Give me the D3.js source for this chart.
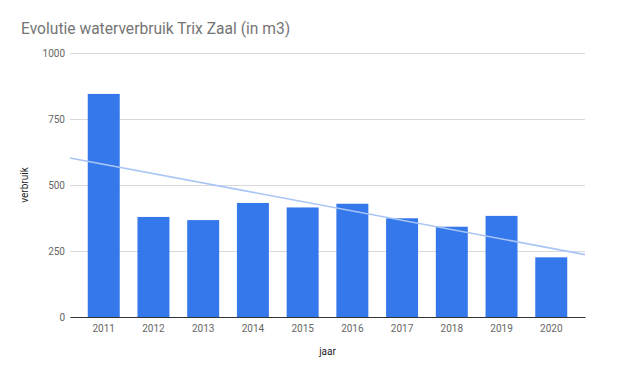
<!DOCTYPE html>
<html>
<head>
<meta charset="utf-8">
<script src="https://cdn.jsdelivr.net/npm/d3@7"></script>
<style>
  body { margin: 0; background: #fff; }
  text { font-family: Roboto, Arial, sans-serif; }
</style>
</head>
<body>
<script>
var width = 640;
var height = 380;
var margin = {top: 53, right: 55, bottom: 63, left: 70};
var w = width - margin.left - margin.right;
var h = height - margin.top - margin.bottom;

// data
var years = ['2011','2012','2013','2014','2015','2016','2017','2018','2019','2020'];
var usage = [845, 379, 367, 432, 415, 429, 374, 342, 383, 226];
var yTicks = [0, 250, 500, 750, 1000];

var svg = d3.select("body").append("svg")
  .attr("width", width)
  .attr("height", height);

svg.append("text")
  .attr("x", 21)
  .attr("y", 34)
  .attr("font-size", 15.6)
  .attr("fill", "#757575")
  .text("Evolutie waterverbruik Trix Zaal (in m3)");

var g = svg.append("g")
  .attr("transform", "translate(" + margin.left + "," + margin.top + ")");

var x = d3.scaleBand()
  .domain(years)
  .range([0, w])
  .padding(0.357);

var y = d3.scaleLinear()
  .domain([0, 1000])
  .range([h, 0]);

// gridlines + y labels
g.append("g")
  .attr("class", "y axis")
  .call(d3.axisLeft(y).tickValues(yTicks).tickFormat(d3.format("d")).tickSize(-w).tickPadding(5))
  .call(function(a) {
    a.select(".domain").remove();
    a.selectAll("line").attr("stroke", "#d9d9d9");
    a.selectAll("text").attr("fill", "#666").attr("font-size", 10);
  });

// bars
g.selectAll(".bar")
  .data(usage)
  .enter()
  .append("rect")
  .attr("class", "bar")
  .attr("x", function(d, i) { return x(years[i]); })
  .attr("width", x.bandwidth())
  .attr("y", function(d) { return y(d); })
  .attr("height", function(d) { return h - y(d); })
  .attr("fill", "#3478eb");

// linear trendline (least squares over the bars), across the full plot width
var mx = d3.mean(usage, function(d, i) { return i; });
var my = d3.mean(usage);
var sxy = 0, sxx = 0;
usage.forEach(function(d, i) {
  sxy += (i - mx) * (d - my);
  sxx += (i - mx) * (i - mx);
});
var slope = sxy / sxx;
var step = x.step();
var c0 = x(years[0]) + x.bandwidth() / 2;
function trendAt(px) {
  var idx = (px - c0) / step;
  return my + slope * (idx - mx);
}
g.append("line")
  .attr("x1", 0)
  .attr("y1", y(trendAt(0)))
  .attr("x2", w)
  .attr("y2", y(trendAt(w)))
  .attr("stroke", "#a9c5f5")
  .attr("stroke-width", 1.6);

// x axis
g.append("g")
  .attr("class", "x axis")
  .attr("transform", "translate(0," + h + ")")
  .call(d3.axisBottom(x).tickSize(0).tickPadding(8))
  .call(function(a) {
    a.select(".domain").attr("stroke", "#333");
    a.selectAll("text").attr("fill", "#666").attr("font-size", 10);
  });

// axis titles
svg.append("text")
  .attr("x", margin.left + w / 2)
  .attr("y", 355)
  .attr("text-anchor", "middle")
  .attr("font-size", 10)
  .attr("fill", "#222")
  .text("jaar");

svg.append("text")
  .attr("transform", "translate(28," + (margin.top + h / 2) + ") rotate(-90)")
  .attr("text-anchor", "middle")
  .attr("font-size", 10)
  .attr("fill", "#222")
  .text("verbruik");
</script>
</body>
</html>
